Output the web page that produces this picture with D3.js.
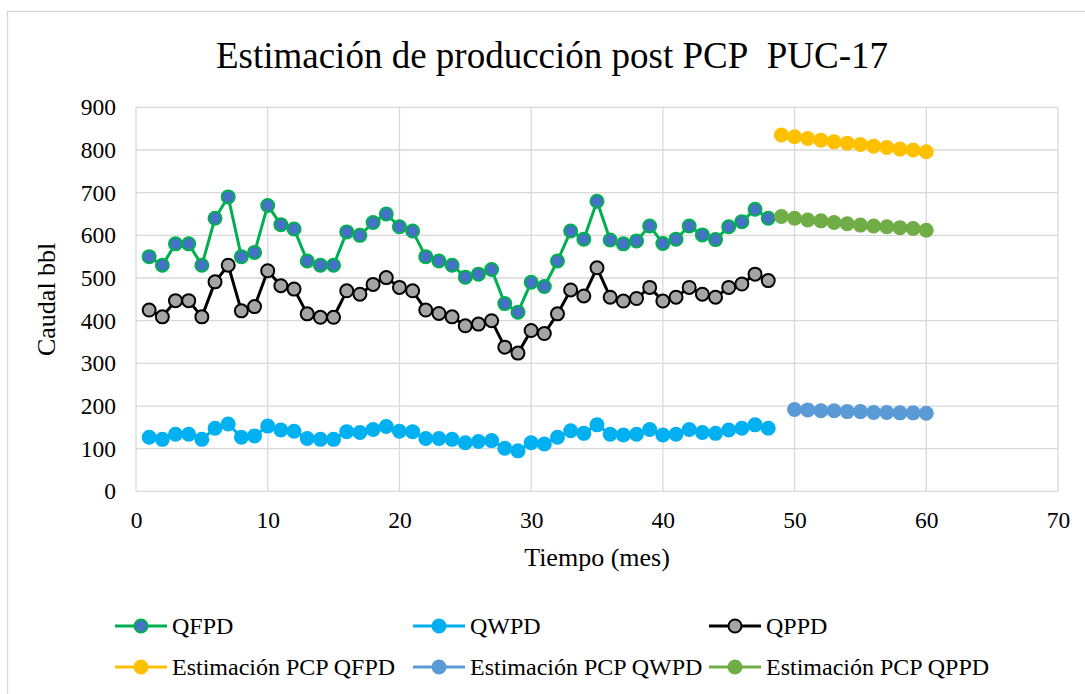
<!DOCTYPE html>
<html>
<head>
<meta charset="utf-8">
<script src="https://cdn.jsdelivr.net/npm/d3@7"></script>
<style>
  html, body { margin: 0; padding: 0; background: #fff; }
  svg { display: block; }
  svg text { font-family: "Liberation Serif", "Times New Roman", serif !important; fill: #000; }
</style>
</head>
<body>
<svg id="chart" width="1085" height="694"></svg>
<script>
// ---------- data ----------
const mesesHist = [1,2,3,4,5,6,7,8,9,10,11,12,13,14,15,16,17,18,19,20,21,22,23,24,25,26,27,28,29,30,31,32,33,34,35,36,37,38,39,40,41,42,43,44,45,46,47,48];
const qfpd = [550,530,580,580,530,640,690,550,560,670,625,615,540,530,530,608,600,630,650,620,610,550,540,530,502,509,520,440,420,490,480,540,610,591,680,589,580,587,622,581,591,622,601,590,620,632,661,640];
const qwpd = [127,122,134,134,122,148,158,127,130,153,144,141,124,122,122,140,138,145,152,141,140,124,124,122,114,117,119,101,95,114,111,127,142,136,156,134,132,134,145,132,134,145,138,136,144,148,156,148];
const qppd = [425,409,447,447,409,491,530,423,433,517,482,474,416,408,408,470,462,485,501,478,470,425,417,409,388,392,400,338,324,377,370,416,472,458,524,455,446,452,478,446,455,478,462,455,478,486,509,494];

const mesesEstA = [49,50,51,52,53,54,55,56,57,58,59,60];
const estQfpd = [835,831,827,823,819,816,813,809,806,802,800,796];
const estQppd = [644,640,636,634,630,627,624,622,620,618,616,612];
const mesesEstW = [50,51,52,53,54,55,56,57,58,59,60];
const estQwpd = [192,191,189,189,187,187,185,185,184,184,183];

const xTicks = [0,10,20,30,40,50,60,70];
const yTicks = [0,100,200,300,400,500,600,700,800,900];

const titulo = "Estimación de producción post PCP\u00a0 PUC-17";
const tituloX = "Tiempo (mes)";
const tituloY = "Caudal bbl";

// ---------- series definitions ----------
const series = [
  {name:"QFPD", x:mesesHist, y:qfpd, line:"#00B050", fill:"#4472C4", stroke:"#00B050"},
  {name:"QWPD", x:mesesHist, y:qwpd, line:"#00B0F0", fill:"#00B0F0", stroke:"#00B0F0"},
  {name:"QPPD", x:mesesHist, y:qppd, line:"#000000", fill:"#A5A5A5", stroke:"#000000"},
  {name:"Estimación PCP QFPD", x:mesesEstA, y:estQfpd, line:"#FFC000", fill:"#FFC000", stroke:"#FFC000"},
  {name:"Estimación PCP QWPD", x:mesesEstW, y:estQwpd, line:"#5B9BD5", fill:"#5B9BD5", stroke:"#5B9BD5"},
  {name:"Estimación PCP QPPD", x:mesesEstA, y:estQppd, line:"#70AD47", fill:"#70AD47", stroke:"#70AD47"}
];

// ---------- layout ----------
const FONT = "Liberation Serif, Times New Roman, serif";
const svg = d3.select("#chart");
const plot = {left:136, right:1058, top:107.3, bottom:491.4};
const x = d3.scaleLinear().domain([0,70]).range([plot.left, plot.right]);
const y = d3.scaleLinear().domain([0,900]).range([plot.bottom, plot.top]);
const grid = "#D9D9D9";

// chart border
svg.append("rect").attr("x",7.5).attr("y",11.5).attr("width",1100).attr("height",700)
  .attr("fill","none").attr("stroke",grid).attr("stroke-width",1.3);

// title
svg.append("text").attr("x",552).attr("y",68).attr("text-anchor","middle")
  .attr("font-family",FONT).style("font-size","37px").text(titulo);

// gridlines
svg.append("g").selectAll("line.h").data(yTicks).join("line")
  .attr("x1",plot.left).attr("x2",plot.right)
  .attr("y1",d=>y(d)).attr("y2",d=>y(d))
  .attr("stroke",grid).attr("stroke-width",1.3);
svg.append("g").selectAll("line.v").data(xTicks).join("line")
  .attr("y1",plot.top).attr("y2",plot.bottom)
  .attr("x1",d=>x(d)).attr("x2",d=>x(d))
  .attr("stroke",grid).attr("stroke-width",1.3);

// axes (labels via d3 axis)
const yAxis = svg.append("g").attr("transform",`translate(${plot.left},0)`)
  .call(d3.axisLeft(y).tickValues(yTicks).tickSize(0).tickPadding(20));
const xAxis = svg.append("g").attr("transform",`translate(0,${plot.bottom})`)
  .call(d3.axisBottom(x).tickValues(xTicks).tickSize(0).tickPadding(20));
[yAxis, xAxis].forEach(a => {
  a.attr("font-family",FONT).attr("font-size",23.5);
  a.select(".domain").remove();
  a.selectAll("text").attr("font-family",FONT).attr("font-size",23.5).attr("fill","#000");
});

// axis titles
svg.append("text").attr("x",x(35)).attr("y",566).attr("text-anchor","middle")
  .attr("font-family",FONT).style("font-size","26px").text(tituloX);
svg.append("text").attr("transform",`translate(55,${(plot.top+plot.bottom)/2}) rotate(-90)`)
  .attr("text-anchor","middle").attr("font-family",FONT).style("font-size","26px").text(tituloY);

// series
const lineGen = d3.line().x(d=>x(d[0])).y(d=>y(d[1]));
series.forEach(s => {
  const pts = s.x.map((v,i)=>[v, s.y[i]]);
  const g = svg.append("g");
  g.append("path").datum(pts).attr("d",lineGen).attr("fill","none")
    .attr("stroke",s.line).attr("stroke-width",3).attr("stroke-linejoin","round");
  g.selectAll("circle").data(pts).join("circle")
    .attr("cx",d=>x(d[0])).attr("cy",d=>y(d[1])).attr("r",6.5)
    .attr("fill",s.fill).attr("stroke",s.stroke).attr("stroke-width",2);
});

// legend
const legX = [115, 413, 709];
const legY = [626, 667];
series.forEach((s,i) => {
  const lx = legX[i%3], ly = legY[Math.floor(i/3)];
  const g = svg.append("g");
  g.append("line").attr("x1",lx).attr("x2",lx+52).attr("y1",ly).attr("y2",ly)
    .attr("stroke",s.line).attr("stroke-width",3);
  g.append("circle").attr("cx",lx+26).attr("cy",ly).attr("r",6.5)
    .attr("fill",s.fill).attr("stroke",s.stroke).attr("stroke-width",2);
  g.append("text").attr("x",lx+57).attr("y",ly+8).attr("font-family",FONT)
    .style("font-size","24px").text(s.name);
});
</script>
</body>
</html>
